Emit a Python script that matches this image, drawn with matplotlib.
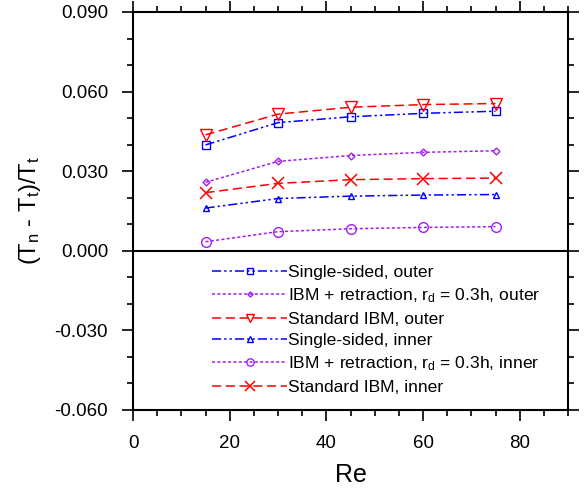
import numpy as np
import matplotlib
matplotlib.use("Agg")
import matplotlib.pyplot as plt

plt.rcParams['font.family'] = ['Liberation Sans', 'DejaVu Sans']
plt.rcParams['mathtext.default'] = 'regular'
plt.rcParams['axes.unicode_minus'] = False

re = [15, 30, 45, 60, 75]

single_outer = [0.0399, 0.0483, 0.0505, 0.0518, 0.0526]
retr_outer = [0.0258, 0.0337, 0.0359, 0.0371, 0.0377]
std_outer = [0.0437, 0.0515, 0.0541, 0.0551, 0.0555]
single_inner = [0.0161, 0.0197, 0.0206, 0.0210, 0.0212]
retr_inner = [0.0034, 0.0072, 0.0083, 0.0088, 0.0091]
std_inner = [0.0219, 0.0254, 0.0268, 0.0272, 0.0274]

labels = [
    "Single-sided, outer",
    "IBM + retraction, r$_d$ = 0.3h, outer",
    "Standard IBM, outer",
    "Single-sided, inner",
    "IBM + retraction, r$_d$ = 0.3h, inner",
    "Standard IBM, inner",
]

blue = "#0000ff"
purple = "#a020f0"
red = "#ff0000"
dashdotdot = (0, (6, 2, 1.5, 2, 1.5, 2))
dotted = (0, (2, 1.5))
dashed = (0, (6, 3))

fig = plt.figure(figsize=(5.88, 4.91), dpi=100)
ax = fig.add_axes([0.2262, 0.165, 0.7398, 0.8106])

ax.axhline(0.0, color="black", lw=1.5, zorder=1)

ax.plot(re, single_outer, color=blue, ls=dashdotdot, lw=1.1, marker="s", ms=5.5,
        mfc="none", mec=blue, mew=1.0, label=labels[0])
ax.plot(re, retr_outer, color=purple, ls=dotted, lw=1.1, marker="D", ms=3.5,
        mfc="none", mec=purple, mew=1.0, label=labels[1])
ax.plot(re, std_outer, color=red, ls=dashed, lw=1.1, marker="v", ms=8,
        mfc="none", mec=red, mew=1.0, label=labels[2])
ax.plot(re, single_inner, color=blue, ls=dashdotdot, lw=1.1, marker="^", ms=5,
        mfc="none", mec=blue, mew=1.0, label=labels[3])
ax.plot(re, retr_inner, color=purple, ls=dotted, lw=1.1, marker="o", ms=7,
        mfc="none", mec=purple, mew=1.0, label=labels[4])
ax.plot(re, std_inner, color=red, ls=dashed, lw=1.1, marker="x", ms=9,
        mfc="none", mec=red, mew=1.1, label=labels[5])

ax.set_xlim(0, 90)
ax.set_ylim(-0.06, 0.09)
ax.set_xticks(np.arange(0, 81, 20))
ax.set_xticks(np.arange(0, 91, 5), minor=True)
ax.set_yticks(np.arange(-0.06, 0.0901, 0.03))
ax.set_yticks(np.arange(-0.06, 0.0901, 0.01), minor=True)
ax.yaxis.set_major_formatter(matplotlib.ticker.FormatStrFormatter("%.3f"))

for s in ax.spines.values():
    s.set_linewidth(1.5)
ax.tick_params(which="both", direction="out", top=True, right=True,
               labeltop=False, labelright=False, width=1.2, labelsize=13.5)
ax.tick_params(which="major", length=8, pad=10)
ax.tick_params(which="minor", length=4)

ax.set_xlabel("Re", fontsize=18, labelpad=8)
ax.set_ylabel("(T$_n$ - T$_t$)/T$_t$", fontsize=17, labelpad=8)

ax.legend(loc="upper left", bbox_to_anchor=(0.166, 0.382), frameon=False,
          fontsize=12.6, handlelength=4.3, handletextpad=0.05, labelspacing=0.36,
          markerscale=0.75, borderaxespad=0)

fig.savefig("out.png", dpi=100)
